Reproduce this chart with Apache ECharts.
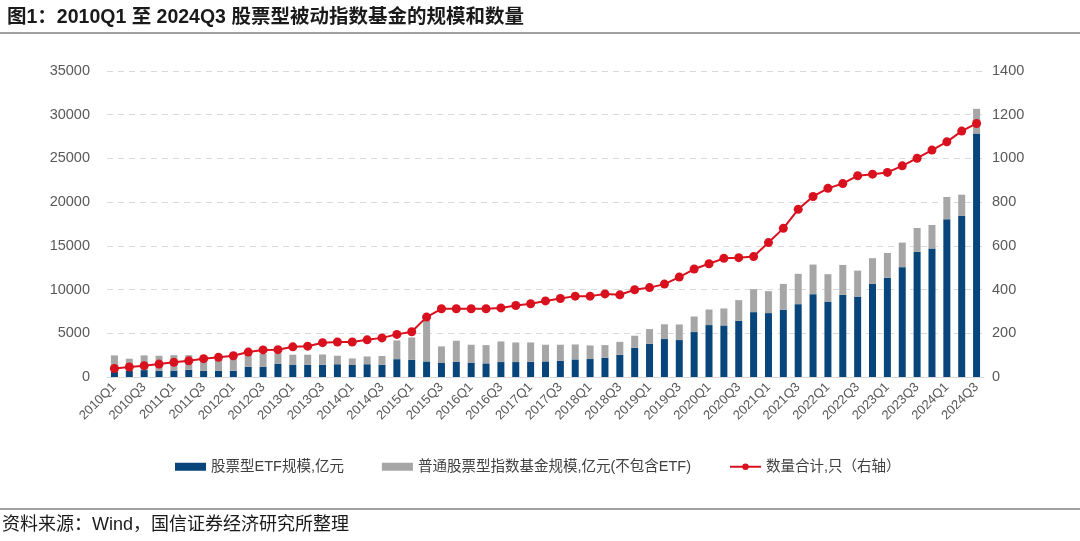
<!DOCTYPE html>
<html><head><meta charset="utf-8">
<script src="https://cdn.jsdelivr.net/npm/echarts@6/dist/echarts.min.js"></script>
<style>html,body{margin:0;padding:0;background:#fff}#c{width:1080px;height:541px}</style>
</head><body><div id="c"></div>
<script>
const categories = (function(){const a=[];for(let y=2010;y<=2024;y++){for(let q=1;q<=4;q++){if(y===2024&&q>3)break;a.push(y+'Q'+q);}}return a;})();
const etfScale = [600,700,790,690,740,820,720,720,720,1160,1150,1530,1370,1400,1400,1460,1370,1460,1400,2040,1975,1780,1600,1750,1600,1560,1710,1710,1750,1780,1860,2010,2055,2200,2545,3345,3800,4340,4225,5140,5940,5900,6430,7420,7310,7690,8330,9470,8630,9400,9200,10650,11340,12560,14310,14690,18040,18420,27860];
const totalScale = [2470,2090,2470,2430,2500,2500,2400,2250,2450,2800,2650,2740,2550,2550,2580,2430,2120,2350,2400,4180,4520,6450,3500,4145,3690,3650,4070,3950,3950,3690,3690,3720,3610,3650,4020,4720,5480,6030,6010,6920,7720,7840,8790,10050,9820,10650,11800,12860,11760,12820,12170,13590,14190,15370,17050,17390,20590,20850,30670];
const fundCount = [39,46,52,59,67,74,84,90,97,114,124,125,138,141,157,160,160,170,179,195,207,274,312,312,312,312,316,327,335,348,359,370,370,380,376,399,409,425,457,494,518,543,546,551,615,680,767,826,863,885,921,928,936,966,1001,1038,1076,1125,1160];
const otherScale = totalScale.map((t,i)=>t-etfScale[i]);
const seriesNames = ['股票型ETF规模,亿元','普通股票型指数基金规模,亿元(不包含ETF)','数量合计,只（右轴）'];

const FONT = '"Liberation Sans", Arial, "Noto Sans CJK SC"';
const chart = echarts.init(document.getElementById('c'));
const axisLabelStyle = {color:'#595959', fontSize:14.5, fontFamily:FONT};
chart.setOption({
  animation:false,
  textStyle:{fontFamily:FONT},
  title:{text:'图1：2010Q1 至 2024Q3 股票型被动指数基金的规模和数量', left:2, top:3,
    textStyle:{fontSize:19.5, fontWeight:'bold', color:'#1a1a1a', fontFamily:FONT}},
  graphic:[
    {type:'line', shape:{x1:0,y1:33,x2:1080,y2:33}, style:{stroke:'#404040', lineWidth:1}},
    {type:'line', shape:{x1:0,y1:509,x2:1080,y2:509}, style:{stroke:'#404040', lineWidth:1}},
    {type:'text', left:2, top:516, style:{text:'资料来源：Wind，国信证券经济研究所整理', fontSize:18, fill:'#1a1a1a', fontFamily:FONT}}
  ],
  legend:{bottom:62, left:170, itemGap:38, itemWidth:31, itemHeight:8,
    textStyle:{color:'#404040', fontSize:14.5, fontFamily:FONT},
    data:[{name:seriesNames[0], icon:'rect'},{name:seriesNames[1], icon:'rect'},{name:seriesNames[2]}]},
  grid:{left:107, right:96, top:71, bottom:164, containLabel:false},
  xAxis:{type:'category', data:categories,
    axisLine:{lineStyle:{color:'#d9d9d9'}}, axisTick:{show:false},
    axisLabel:Object.assign({}, axisLabelStyle, {interval:1, rotate:45, fontSize:13, margin:8})},
  yAxis:[
    {type:'value', min:0, max:35000, interval:5000,
      axisLine:{show:false}, axisTick:{show:false},
      splitLine:{lineStyle:{color:'#d9d9d9', type:[6,5]}},
      axisLabel:Object.assign({}, axisLabelStyle, {margin:17, formatter:v=>String(v)})},
    {type:'value', min:0, max:1400, interval:200,
      axisLine:{show:false}, axisTick:{show:false}, splitLine:{show:false},
      axisLabel:Object.assign({}, axisLabelStyle, {margin:8, formatter:v=>String(v)})}
  ],
  series:[
    {name:seriesNames[0], type:'bar', stack:'s', data:etfScale, barWidth:7, itemStyle:{color:'#08457a'}},
    {name:seriesNames[1], type:'bar', stack:'s', data:otherScale, barWidth:7, itemStyle:{color:'#a6a6a6'}},
    {name:seriesNames[2], type:'line', yAxisIndex:1, data:fundCount, symbol:'circle', symbolSize:9,
      lineStyle:{color:'#d9101d', width:2}, itemStyle:{color:'#d9101d'}, z:5}
  ]
});
</script></body></html>
